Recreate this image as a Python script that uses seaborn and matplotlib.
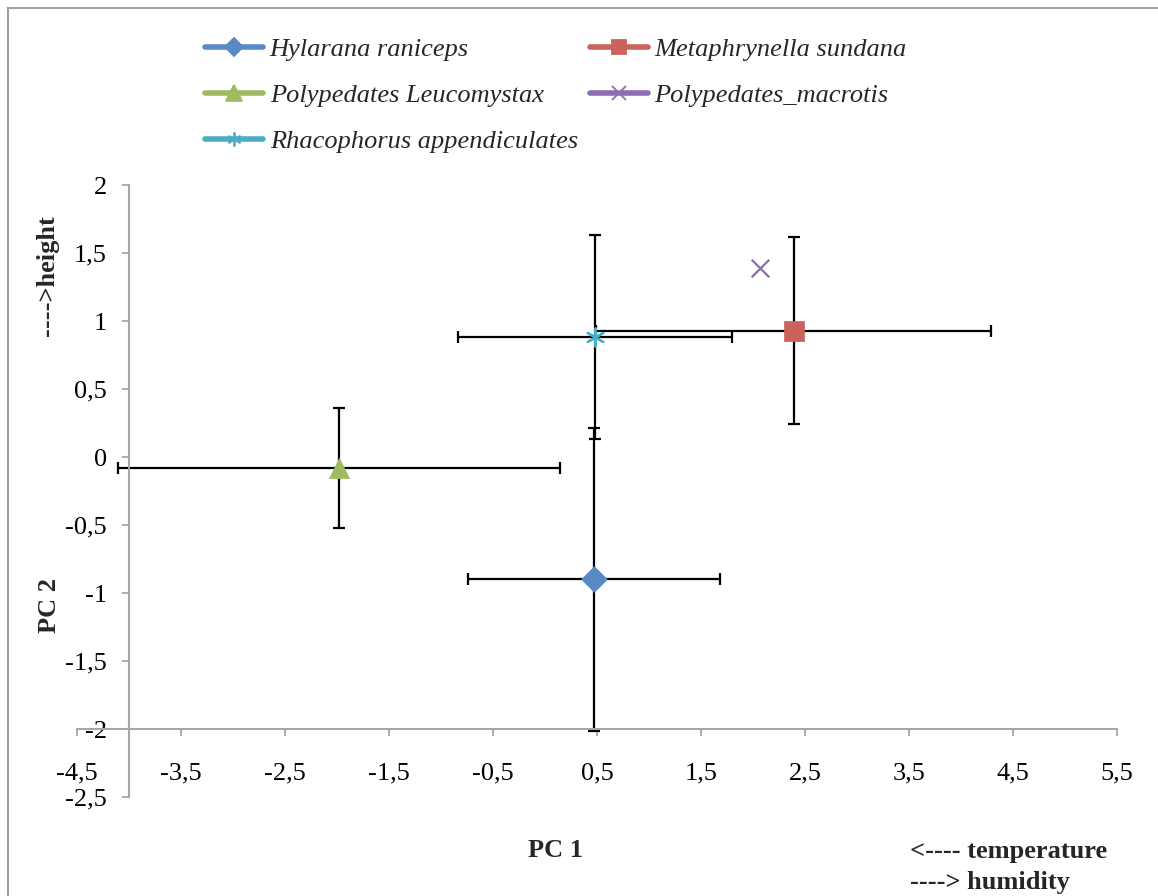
import numpy as np
import pandas as pd
import matplotlib
matplotlib.use("Agg")
import matplotlib.pyplot as plt
from matplotlib.lines import Line2D
from matplotlib.patches import Rectangle
import seaborn as sns

# ---- data ----
species = ["Hylarana raniceps", "Metaphrynella sundana", "Polypedates Leucomystax",
           "Polypedates_macrotis", "Rhacophorus appendiculates"]
pc1 = [0.47, 2.39, -1.98, 2.07, 0.48]
pc2 = [-0.90, 0.93, -0.08, 1.39, 0.88]
pc1_err = [1.21, 1.90, 2.125, 0.0, 1.32]
pc2_err = [1.115, 0.69, 0.44, 0.0, 0.75]
x_ticks = [-4.5, -3.5, -2.5, -1.5, -0.5, 0.5, 1.5, 2.5, 3.5, 4.5, 5.5]
y_ticks = [-2.5, -2, -1.5, -1, -0.5, 0, 0.5, 1, 1.5, 2]

colors = ["#5A8AC6", "#CC625C", "#9DBB61", "#8B6DB0", "#4BACC6"]
markers = ["D", "s", "^", "x", (6, 2, 0)]
msizes = [170, 200, 210, 160, 170]

sns.set_theme(style="white")
plt.rcParams["font.family"] = ["Liberation Serif", "DejaVu Serif"]

FS = 19
W, H = 1158, 896
fig = plt.figure(figsize=(W / 100, H / 100), dpi=100)
fig.patch.set_facecolor("white")
fig.add_artist(Rectangle((8 / W, -0.1), 1.2, 1.1 - 8 / H, transform=fig.transFigure,
                         fill=False, edgecolor="#A0A0A0", lw=1.5))

ax = fig.add_axes([77 / W, 1 - 797 / H, (1117 - 77) / W, (797 - 185) / H])
ax.set_facecolor("none")

df = pd.DataFrame({"species": species, "PC1": pc1, "PC2": pc2})

# error bars
for i, sp in enumerate(species):
    if pc1_err[i] > 0 or pc2_err[i] > 0:
        ax.errorbar(pc1[i], pc2[i], xerr=pc1_err[i], yerr=pc2_err[i], fmt="none",
                    ecolor="black", elinewidth=1.6, capsize=4.5, capthick=1.6, zorder=2)

# markers via seaborn
for i, sp in enumerate(species):
    sub = df[df["species"] == sp]
    m = markers[i]
    filled = m != "x" and not isinstance(m, tuple)
    if filled:
        sns.scatterplot(data=sub, x="PC1", y="PC2", marker=m, s=msizes[i], color=colors[i],
                        edgecolor=colors[i], linewidth=0.5, ax=ax, zorder=4, legend=False)
    else:
        sns.scatterplot(data=sub, x="PC1", y="PC2", marker=m, s=msizes[i], color=colors[i],
                        linewidth=1.6, ax=ax, zorder=4, legend=False)

ax.set_xlim(-4.5, 5.5)
ax.set_ylim(-2.5, 2)
ax.spines["left"].set_position(("data", -4.0))
ax.spines["bottom"].set_position(("data", -2.0))
for s in ["top", "right"]:
    ax.spines[s].set_visible(False)
for s in ["left", "bottom"]:
    ax.spines[s].set_color("#A6A6A6")
    ax.spines[s].set_linewidth(1.5)

ax.set_xticks(x_ticks)
ax.set_xticklabels([f"{v:g}".replace(".", ",") for v in x_ticks])
ax.set_yticks(y_ticks)
ax.set_yticklabels([f"{v:g}".replace(".", ",") for v in y_ticks])
ax.tick_params(axis="both", direction="out", length=5, width=1.3, color="#A6A6A6",
               labelsize=FS, labelcolor="black")
ax.tick_params(axis="x", pad=19, bottom=True)
ax.tick_params(axis="y", pad=11, left=True)
ax.set_xlabel("")
ax.set_ylabel("")

# axis titles
fig.text(555 / W, 1 - 850 / H, "PC 1", ha="center", va="center", fontsize=FS, fontweight="bold")
fig.text(50 / W, 1 - 605 / H, "PC 2", ha="center", va="center", fontsize=FS,
         fontweight="bold", rotation=90)
fig.text(48 / W, 1 - 276 / H, "---->height", ha="center", va="center", fontsize=FS,
         fontweight="bold", rotation=90)
fig.text(910 / W, 1 - 851 / H, "<---- temperature", ha="left", va="center", fontsize=FS,
         fontweight="bold")
fig.text(910 / W, 1 - 882 / H, "----> humidity", ha="left", va="center", fontsize=FS,
         fontweight="bold")

# legend (column-first ordering to match row layout)
order = [0, 2, 4, 1, 3]
leg_ms = [9, 10, 11, 10, 10]
handles = []
for i in order:
    m = markers[i]
    handles.append(Line2D([0], [0], color=colors[i], lw=4, marker=m, markersize=leg_ms[i],
                          markerfacecolor=colors[i], markeredgecolor=colors[i],
                          markeredgewidth=1.3))
labels = [species[i] for i in order]
fig.legend(handles, labels, loc="upper left", bbox_to_anchor=(205 / W, 1 - 38 / H),
           ncol=2, frameon=False, borderpad=0, borderaxespad=0, handlelength=2.2,
           handletextpad=0.25, columnspacing=0.45, labelspacing=0.84,
           prop={"family": "Liberation Serif", "style": "italic", "size": FS})

fig.savefig("out.png", dpi=100)
